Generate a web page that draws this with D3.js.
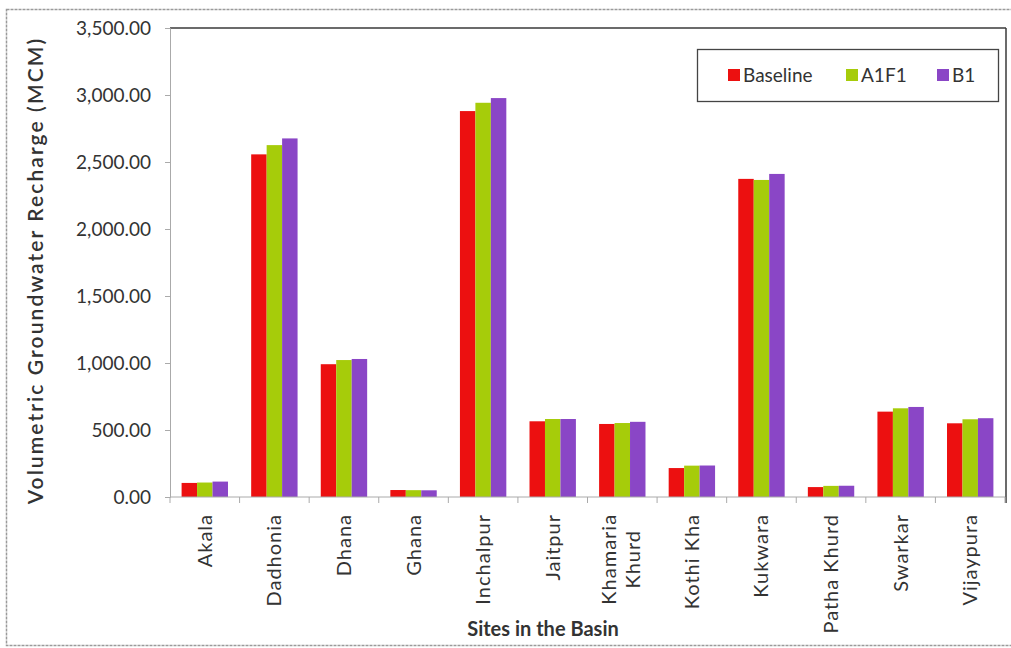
<!DOCTYPE html>
<html>
<head>
<meta charset="utf-8">
<script src="https://cdn.jsdelivr.net/npm/d3@7"></script>
<style>
  html, body { margin: 0; padding: 0; background: #fff; }
  svg { display: block; }
  text { font-family: Lato, "Open Sans", "Noto Sans", sans-serif; fill: #333; }
</style>
</head>
<body>
<svg id="chart" width="1011" height="648"></svg>
<script>
// Sites in the basin
const sites = ["Akala", "Dadhonia", "Dhana", "Ghana", "Inchalpur", "Jaitpur",
  "Khamaria Khurd", "Kothi Kha", "Kukwara", "Patha Khurd", "Swarkar", "Vijaypura"];

// Volumetric groundwater recharge (MCM) for each scenario
const baseline = [105, 2557, 991, 52, 2880, 565, 545, 216, 2374, 74, 637, 550];
const a1f1     = [108, 2626, 1022, 51, 2942, 582, 552, 234, 2366, 83, 662, 580];
const b1       = [115, 2676, 1030, 50, 2977, 582, 561, 235, 2411, 84, 672, 588];

const seriesNames = ["Baseline", "A1F1", "B1"];
const seriesColors = ["#ec1010", "#a6cc0a", "#8a46c6"];
const yTicks = [0, 500, 1000, 1500, 2000, 2500, 3000, 3500];

const series = [baseline, a1f1, b1];

const svg = d3.select("#chart");
const W = 1011;
const plot = { left: 170, right: 1005, top: 28, bottom: 497 };

// outer frame of the figure
svg.append("rect")
  .attr("x", 6.5).attr("y", 9.5).attr("width", W + 10).attr("height", 636)
  .attr("fill", "none").attr("stroke", "#9a9a9a").attr("stroke-width", 1.5)
  .attr("stroke-dasharray", "3,1");

const x = d3.scaleBand().domain(sites).range([plot.left, plot.right]);
// three bars per site, 50% gap between site groups
const x1 = d3.scaleBand().domain(seriesNames)
  .range([0, x.bandwidth()]).paddingInner(0).paddingOuter(0.75);
const y = d3.scaleLinear().domain([0, 3500]).range([plot.bottom, plot.top]);

// plot area borders (top and right)
svg.append("line").attr("x1", plot.left).attr("x2", plot.right + 1)
  .attr("y1", plot.top).attr("y2", plot.top).attr("stroke", "#3a3a3a").attr("stroke-width", 1.5);
svg.append("line").attr("x1", plot.right + 1).attr("x2", plot.right + 1)
  .attr("y1", plot.top).attr("y2", plot.bottom + 6).attr("stroke", "#3a3a3a").attr("stroke-width", 1.5);

// bars
const groups = svg.append("g").selectAll("g")
  .data(sites)
  .join("g")
  .attr("transform", d => `translate(${x(d)},0)`);

groups.selectAll("rect")
  .data((d, i) => series.map((s, k) => ({ name: seriesNames[k], value: s[i], k })))
  .join("rect")
  .attr("x", d => x1(d.name))
  .attr("width", x1.bandwidth())
  .attr("y", d => y(d.value))
  .attr("height", d => y(0) - y(d.value))
  .attr("fill", d => seriesColors[d.k]);

// y axis
const yAxis = d3.axisLeft(y).tickValues(yTicks)
  .tickFormat(d3.format(",.2f")).tickSize(5).tickPadding(14);
const gy = svg.append("g").attr("transform", `translate(${plot.left},0)`).call(yAxis);
gy.select(".domain").attr("stroke", "#aaa");
gy.selectAll(".tick line").attr("stroke", "#aaa");
gy.selectAll(".tick text").attr("font-size", 19).attr("fill", "#555");

// x axis: ticks between categories
const xAxisLine = svg.append("g");
xAxisLine.append("line").attr("x1", plot.left).attr("x2", plot.right)
  .attr("y1", plot.bottom).attr("y2", plot.bottom).attr("stroke", "#aaa");
const boundaries = sites.map(s => x(s)).concat([plot.right]);
xAxisLine.selectAll("line.tk").data(boundaries).join("line")
  .attr("class", "tk")
  .attr("x1", d => d).attr("x2", d => d)
  .attr("y1", plot.bottom).attr("y2", plot.bottom + 6)
  .attr("stroke", "#aaa");

// rotated category labels
const labels = svg.append("g").selectAll("text")
  .data(sites)
  .join("text")
  .attr("transform", d => `translate(${x(d) + x.bandwidth() / 2},${plot.bottom + 17}) rotate(-90)`)
  .attr("text-anchor", "end")
  .attr("font-size", 20)
  .attr("letter-spacing", 1)
  .attr("fill", "#444");
labels.each(function (d) {
  const t = d3.select(this);
  if (d === "Khamaria Khurd") {
    const parts = d.split(" ");
    t.attr("text-anchor", "middle");
    const a = t.append("tspan").attr("dy", "-0.3em").text(parts[0]);
    const b = t.append("tspan").attr("dy", "1.2em").text(parts[1]);
    const half = Math.max(a.node().getComputedTextLength(), b.node().getComputedTextLength()) / 2;
    a.attr("x", -half);
    b.attr("x", -half);
  } else {
    t.attr("dy", "0.35em").text(d);
  }
});

// axis titles
svg.append("text")
  .attr("transform", `translate(43,${(plot.top + plot.bottom) / 2 + 8}) rotate(-90)`)
  .attr("text-anchor", "middle").attr("font-size", 21).attr("font-weight", 600)
  .attr("letter-spacing", 2.1)
  .attr("font-family", "'Open Sans', Lato, sans-serif")
  .attr("fill", "#222")
  .text("Volumetric Groundwater Recharge (MCM)");
svg.append("text")
  .attr("x", 543).attr("y", 636)
  .attr("text-anchor", "middle").attr("font-size", 20).attr("font-weight", 700)
  .attr("fill", "#222")
  .text("Sites in the Basin");

// legend
const lg = svg.append("g");
lg.append("rect").attr("x", 697.5).attr("y", 49.5).attr("width", 301).attr("height", 52)
  .attr("fill", "#fff").attr("stroke", "#444").attr("stroke-width", 1.3);
const legendX = [728, 846, 937];
seriesNames.forEach((n, k) => {
  lg.append("rect").attr("x", legendX[k]).attr("y", 69).attr("width", 12).attr("height", 12)
    .attr("fill", seriesColors[k]);
  lg.append("text").attr("x", legendX[k] + 15).attr("y", 82)
    .attr("font-size", 19).attr("fill", "#333").text(n);
});
</script>
</body>
</html>
